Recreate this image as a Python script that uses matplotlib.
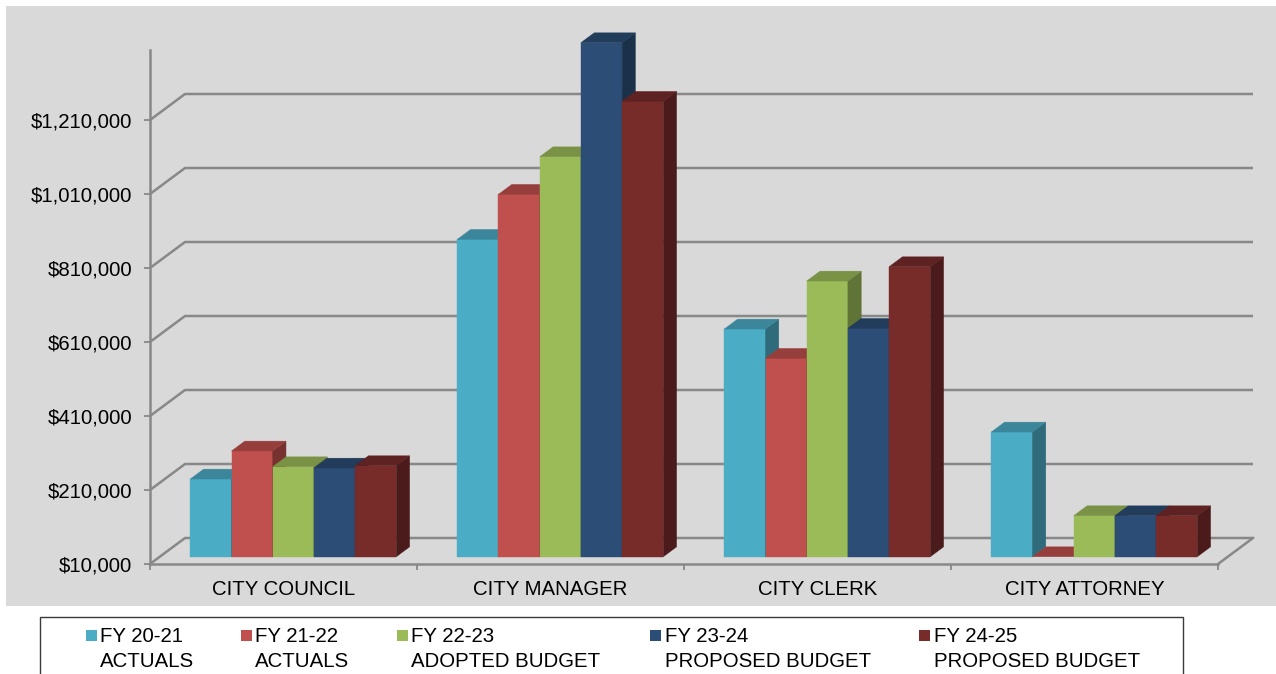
import matplotlib
matplotlib.use("Agg")
import matplotlib.pyplot as plt
from matplotlib.patches import Rectangle, Polygon
import numpy as np

# ---------------- data ----------------
categories = ["CITY COUNCIL", "CITY MANAGER", "CITY CLERK", "CITY ATTORNEY"]
series_labels = ["FY 20-21\nACTUALS", "FY 21-22\nACTUALS", "FY 22-23\nADOPTED BUDGET",
                 "FY 23-24\nPROPOSED BUDGET", "FY 24-25\nPROPOSED BUDGET"]
fy20_21 = [220000, 867800, 625400, 347000]
fy21_22 = [295700, 989500, 546200, 0]
fy22_23 = [253200, 1091000, 755100, 120800]
fy23_24 = [249700, 1399200, 627300, 120800]
fy24_25 = [256000, 1240800, 793800, 120800]
series_values = [fy20_21, fy21_22, fy22_23, fy23_24, fy24_25]
ytick_values = [10000, 210000, 410000, 610000, 810000, 1010000, 1210000]
ytick_labels = ["$10,000", "$210,000", "$410,000", "$610,000", "$810,000", "$1,010,000", "$1,210,000"]

colors = ["#4BACC6", "#C0504D", "#9BBB59", "#2C4D75", "#772C2A"]

# ---------------- layout (pixel based) ----------------
W, H = 1276, 674
DPI = 100
PX_X = 267.0              # px per category unit
PX_V = 74.0 / 200000.0    # px per value unit
VMIN = 10000
X0_PX, Y0_PX = 150, 564   # origin of front plane
TOP_PX, RIGHT_PX = 30, 1262

DX = 35.0 / PX_X          # full depth offset (x, data units)
DV = 26.0 / PX_V          # full depth offset (y, value units)
F0 = 0.28                 # bar front depth fraction
FB = 0.38                 # bar depth fraction
BW = 41.2 / PX_X          # bar width

GRID_C = "#888888"
FONT = "Liberation Sans"
FS = 14.7

plt.rcParams["font.family"] = [FONT, "DejaVu Sans"]

fig = plt.figure(figsize=(W / DPI, H / DPI), dpi=DPI, facecolor="white")

def fx(px):
    return px / W

def fy(py):
    return 1 - py / H

# gray chart area
fig.patches.append(Rectangle((fx(6), fy(606)), fx(1276) - fx(6), fy(6) - fy(606),
                             transform=fig.transFigure, facecolor="#D9D9D9",
                             edgecolor="none", zorder=-5))

ax = fig.add_axes([fx(X0_PX), fy(Y0_PX), fx(RIGHT_PX) - fx(X0_PX), fy(TOP_PX) - fy(Y0_PX)])
ax.set_zorder(1)
ax.set_facecolor("none")
ax.set_xlim(0, (RIGHT_PX - X0_PX) / PX_X)
ax.set_ylim(VMIN, VMIN + (Y0_PX - TOP_PX) / PX_V)

ncat = len(categories)

# walls / gridlines
for v in ytick_values:
    ax.plot([0, DX, ncat + DX], [v, v + DV, v + DV], color=GRID_C, lw=1.8,
            solid_capstyle="butt", zorder=1, clip_on=False)
ax.plot([ncat, ncat + DX], [VMIN, VMIN + DV], color=GRID_C, lw=1.8, zorder=1, clip_on=False)


def shade(c, f):
    rgb = np.array(matplotlib.colors.to_rgb(c))
    return tuple(rgb * f)


# bars
nser = len(series_values)
for c in range(ncat):
    for s in range(nser):
        v = max(series_values[s][c], VMIN)
        col = colors[s]
        xl = c + 0.5 - nser / 2 * BW + s * BW + F0 * DX
        base = VMIN + F0 * DV
        top = base + (v - VMIN)
        h = top - base
        ddx, ddv = FB * DX, FB * DV
        z = 3 + c * 0.01 + s * 0.001
        if h > 0:
            ax.add_patch(Rectangle((xl, base), BW, h, facecolor=col, edgecolor=col,
                                   lw=0.3, zorder=z, clip_on=False))
            ax.add_patch(Polygon([(xl + BW, base), (xl + BW, top), (xl + BW + ddx, top + ddv),
                                  (xl + BW + ddx, base + ddv)], closed=True,
                                 facecolor=shade(col, 0.62), edgecolor=shade(col, 0.62),
                                 lw=0.3, zorder=z, clip_on=False))
        ax.add_patch(Polygon([(xl, top), (xl + BW, top), (xl + BW + ddx, top + ddv),
                              (xl + ddx, top + ddv)], closed=True,
                             facecolor=shade(col, 0.78), edgecolor=shade(col, 0.78),
                             lw=0.3, zorder=z, clip_on=False))

# spines
for side in ["top", "right"]:
    ax.spines[side].set_visible(False)
ax.spines["left"].set_bounds(VMIN, VMIN + 514 / PX_V)
ax.spines["bottom"].set_bounds(0, ncat)
for side in ["left", "bottom"]:
    ax.spines[side].set_color(GRID_C)
    ax.spines[side].set_linewidth(1.8)
    ax.spines[side].set_zorder(2)

ax.set_yticks(ytick_values)
ax.set_yticklabels(ytick_labels)
ax.tick_params(axis="y", length=4.3, width=1.3, color=GRID_C, pad=8.6,
               labelsize=FS, labelcolor="black")

ax.set_xticks(np.arange(ncat + 1))
ax.set_xticklabels([])
ax.set_xticks(np.arange(ncat) + 0.5, minor=True)
ax.set_xticklabels(categories, minor=True)
ax.tick_params(axis="x", which="major", length=4.3, width=1.3, color=GRID_C)
ax.tick_params(axis="x", which="minor", length=0, pad=11.5, labelsize=FS, labelcolor="black")

# legend (manual, Excel style)
fig.patches.append(Rectangle((fx(40), fy(680)), fx(1183) - fx(40), fy(617) - fy(680),
                             transform=fig.transFigure, facecolor="white",
                             edgecolor="#3a3a3a", lw=1.0, zorder=2))
marker_px = [86, 241, 397, 650, 919]
text_px = [100, 255, 411, 665, 934]
for s in range(nser):
    fig.patches.append(Rectangle((fx(marker_px[s]), fy(641)), fx(11), fy(630) - fy(641),
                                 transform=fig.transFigure, facecolor=colors[s],
                                 edgecolor="none", zorder=3))
    lines = series_labels[s].split("\n")
    for li, (txt, base_px) in enumerate(zip(lines, [641.6, 666.6])):
        fig.text(fx(text_px[s]), fy(base_px), txt, fontsize=FS, color="black",
                 ha="left", va="baseline", zorder=4)

fig.savefig("out.png", dpi=DPI, facecolor="white")
